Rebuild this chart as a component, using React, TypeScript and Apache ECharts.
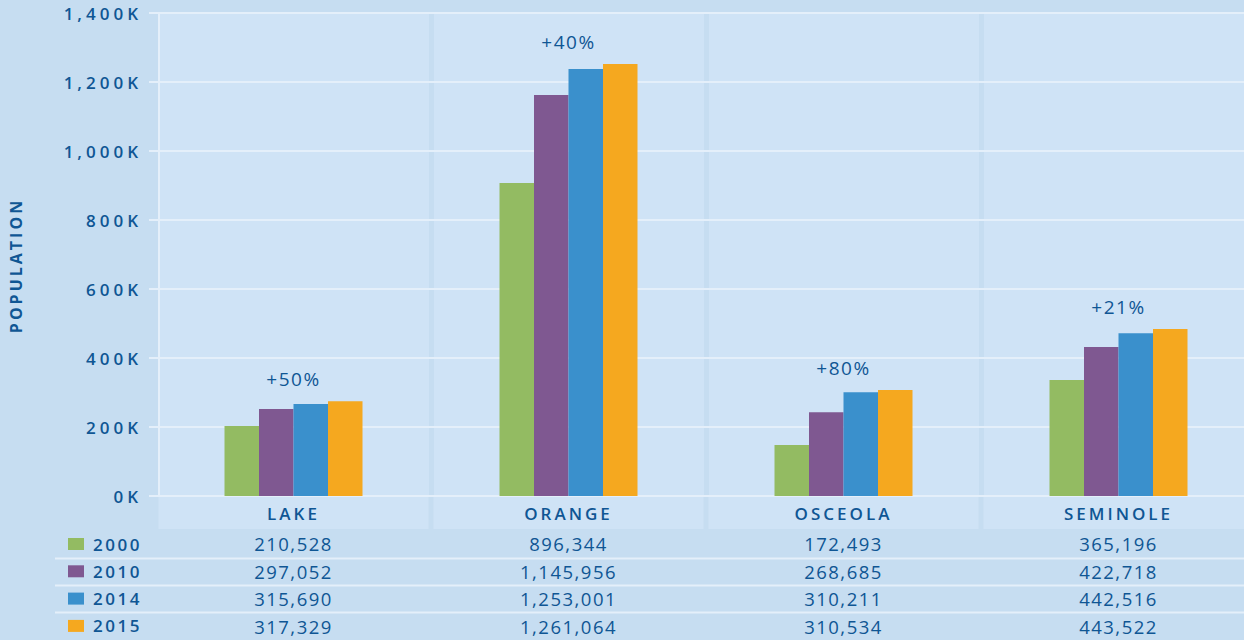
import React, { useEffect, useRef } from "react";
import * as echarts from "echarts";

// ---- data ----
const categories = ["LAKE", "ORANGE", "OSCEOLA", "SEMINOLE"];
const years = ["2000", "2010", "2014", "2015"];

// bar heights as drawn in the picture
const bars2000 = [203000, 907000, 148000, 336000];
const bars2010 = [252000, 1162000, 243000, 432000];
const bars2014 = [267000, 1238000, 301000, 472000];
const bars2015 = [275000, 1252000, 307000, 484000];

// values printed in the table
const table2000 = [210528, 896344, 172493, 365196];
const table2010 = [297052, 1145956, 268685, 422718];
const table2014 = [315690, 1253001, 310211, 442516];
const table2015 = [317329, 1261064, 310534, 443522];

const growthLabels = ["+50%", "+40%", "+80%", "+21%"];

const yMin = 0;
const yMax = 1400000;
const yStep = 200000;

const seriesColors = ["#93bb62", "#7f5891", "#3a90cc", "#f5a81f"];

const TEXT = "#0f5694";
const OUTER = "#c6ddf1";
const PLOT = "#cfe3f6";
const LINE = "#e4effa";
const FONT = "'Open Sans', 'Noto Sans', sans-serif";

const fmt = (n: number) => n.toLocaleString("en-US");

export default function App() {
  const ref = useRef<HTMLDivElement>(null);

  useEffect(() => {
    document.body.style.margin = "0";
    const el = ref.current!;
    const chart = echarts.init(el, null, { renderer: "svg" });

    const barSets = [bars2000, bars2010, bars2014, bars2015];
    const tables = [table2000, table2010, table2014, table2015];
    const maxVals = categories.map((_, i) => Math.max(...barSets.map((b) => b[i])));

    const rowLineYs = [558.5, 585.5, 612.5];

    const option: any = {
      animation: false,
      backgroundColor: OUTER,
      textStyle: { fontFamily: FONT },
      grid: {
        left: 156,
        top: 13,
        right: -12,
        height: 483,
        show: true,
        backgroundColor: PLOT,
        borderWidth: 0,
        outerBoundsMode: "none",
        containLabel: false,
      },
      graphic: rowLineYs.map((y) => ({
        type: "line",
        silent: true,
        z: -1,
        shape: { x1: 55, y1: y, x2: 1244, y2: y },
        style: { stroke: LINE, lineWidth: 2 },
      })),
      legend: {
        data: years,
        orient: "vertical",
        left: 68,
        top: 534,
        padding: 0,
        itemWidth: 16,
        itemHeight: 12,
        itemGap: 7.3,
        icon: "rect",
        selectedMode: false,
        textStyle: {
          color: TEXT,
          fontSize: 17,
          fontWeight: 600,
          fontFamily: FONT,
          lineHeight: 20,
          padding: [0, 0, 0, 4],
        },
      },
      xAxis: {
        type: "category",
        data: categories,
        z: 0,
        axisLine: { show: false },
        axisTick: { show: false },
        splitLine: { show: true, lineStyle: { color: OUTER, width: 5 } },
        axisLabel: {
          interval: 0,
          margin: 1,
          formatter: (value: string, idx: number) =>
            [
              `{cat|${value}}`,
              `{r1|${fmt(tables[0][idx])}}`,
              `{r|${fmt(tables[1][idx])}}`,
              `{r|${fmt(tables[2][idx])}}`,
              `{r|${fmt(tables[3][idx])}}`,
            ].join("\n"),
          rich: {
            cat: {
              width: 270,
              height: 32,
              lineHeight: 32,
              backgroundColor: PLOT,
              align: "center",
              verticalAlign: "middle",
              fontSize: 17,
              fontWeight: 600,
              color: TEXT,
              fontFamily: FONT,
            },
            r1: {
              lineHeight: 29,
              align: "center",
              fontSize: 18.5,
              fontWeight: 500,
              color: TEXT,
              fontFamily: FONT,
            },
            r: {
              lineHeight: 27.3,
              align: "center",
              fontSize: 18.5,
              fontWeight: 500,
              color: TEXT,
              fontFamily: FONT,
            },
          },
        },
      },
      yAxis: {
        type: "value",
        min: yMin,
        max: yMax,
        interval: yStep,
        z: 1,
        offset: -3,
        name: "POPULATION",
        nameLocation: "middle",
        nameRotate: 90,
        nameGap: 135,
        nameTextStyle: {
          color: TEXT,
          fontSize: 16,
          fontWeight: 700,
          fontFamily: FONT,
          padding: [0, 22, 0, 0],
        },
        axisLine: { show: true, lineStyle: { color: LINE, width: 2 } },
        axisTick: { show: true, length: 10, lineStyle: { color: LINE, width: 2 } },
        splitLine: { show: true, lineStyle: { color: LINE, width: 2 } },
        axisLabel: {
          margin: 17,
          color: TEXT,
          fontSize: 17,
          fontWeight: 600,
          fontFamily: FONT,
          formatter: (v: number) => `${fmt(v / 1000)}K`,
        },
      },
      series: [
        ...years.map((y, i) => ({
          name: y,
          type: "bar",
          data: barSets[i],
          barWidth: 34.5,
          barGap: "0%",
          z: 2,
          itemStyle: { color: seriesColors[i] },
          emphasis: { disabled: true },
          silent: true,
        })),
        {
          name: "growth",
          type: "scatter",
          data: categories.map((c, i) => [c, maxVals[i]]),
          symbolSize: 1,
          itemStyle: { color: "rgba(0,0,0,0)" },
          z: 3,
          silent: true,
          label: {
            show: true,
            position: "inside",
            offset: [0, -22],
            formatter: (p: any) => growthLabels[p.dataIndex],
            color: TEXT,
            opacity: 1,
            fontSize: 19,
            fontWeight: 500,
            fontFamily: FONT,
          },
        },
      ],
    };

    chart.setOption(option);

    const applySpacing = () => {
      el.querySelectorAll("text").forEach((t) => {
        const s = (t.textContent || "").trim();
        let ls = "";
        if (/^[\d,]+K$/.test(s)) ls = "4px";
        else if (s === "POPULATION") ls = "3px";
        else if (categories.includes(s)) ls = "3px";
        else if (years.includes(s)) ls = "2.5px";
        else if (/^\+\d+%$/.test(s)) ls = "1.5px";
        else if (/^[\d,]+$/.test(s)) ls = "1.5px";
        if (ls) (t as SVGTextElement).style.letterSpacing = ls;
      });
    };
    applySpacing();
    chart.on("finished", applySpacing);

    return () => {
      chart.dispose();
    };
  }, []);

  return (
    <div
      ref={ref}
      style={{ position: "absolute", left: 0, top: 0, width: 1244, height: 640, background: OUTER }}
    />
  );
}
